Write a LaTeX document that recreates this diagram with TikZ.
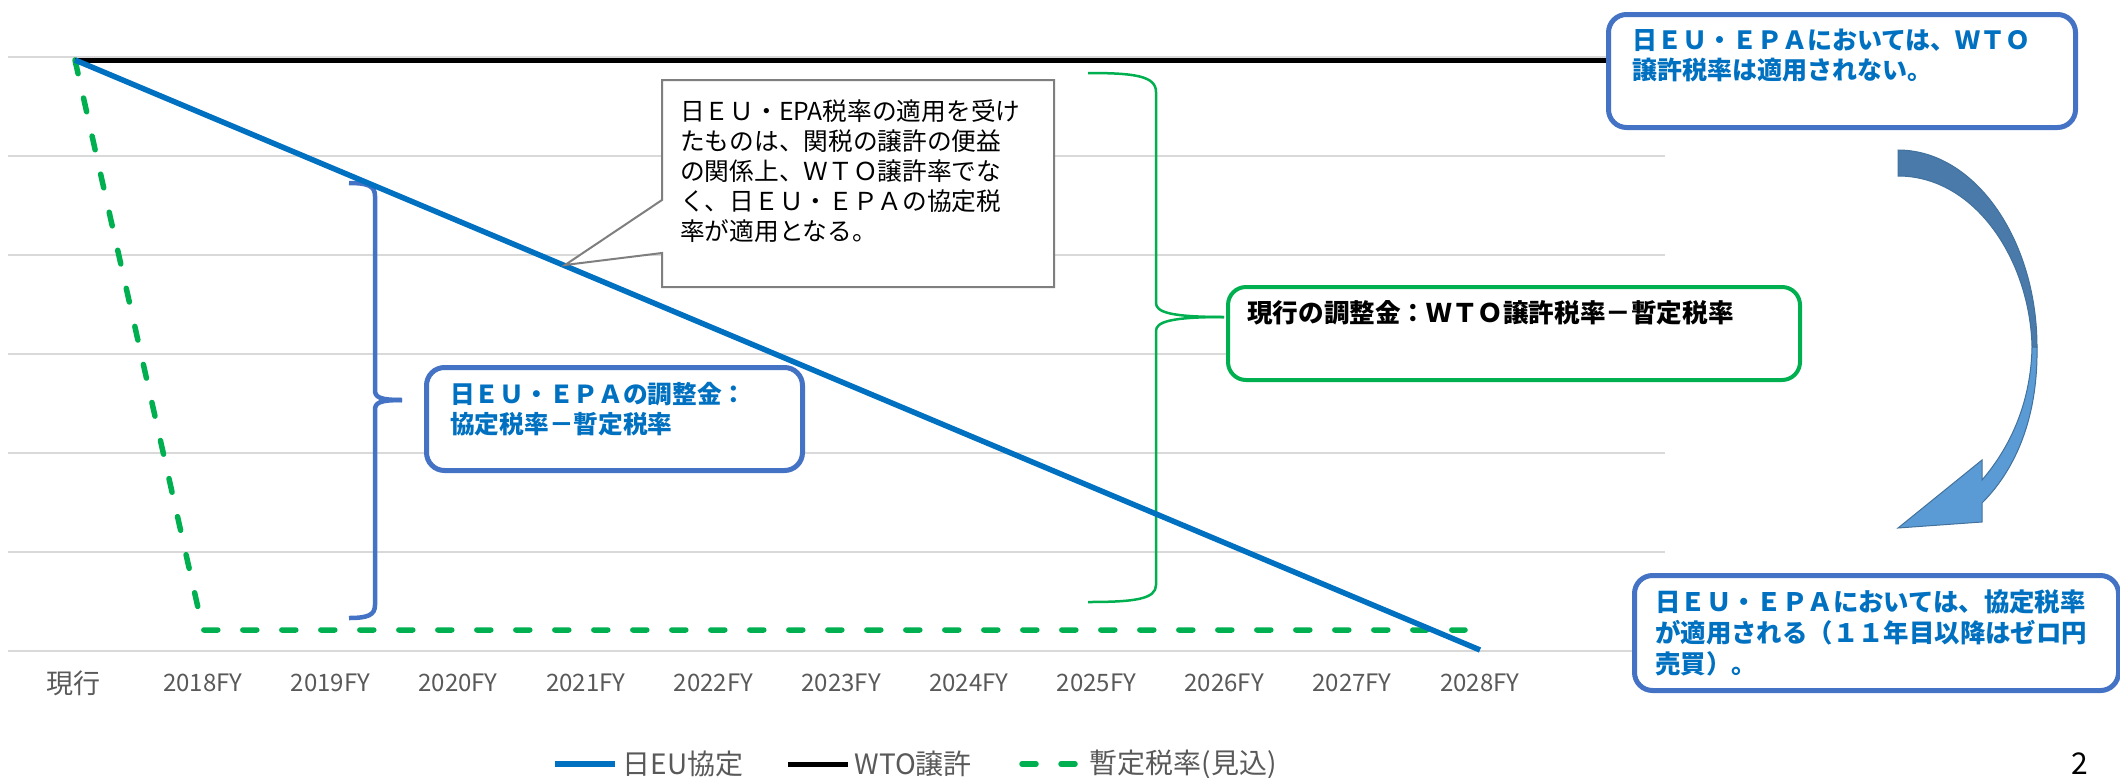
\documentclass[tikz,border=0pt]{standalone}
\usepackage{fontspec}
\setmainfont{Noto Sans CJK JP}
\definecolor{databl}{RGB}{0, 112, 192}
\definecolor{boxbl}{RGB}{68, 114, 196}
\definecolor{grn1}{RGB}{0, 176, 80}
\definecolor{grid1}{RGB}{217, 217, 217}
\definecolor{axisgray}{RGB}{89, 89, 89}
\definecolor{notegray}{RGB}{127, 127, 127}
\definecolor{arrowdark}{RGB}{74, 122, 170}
\definecolor{arrowlight}{RGB}{91, 155, 213}
\definecolor{arrowline}{RGB}{65, 113, 156}
\usetikzlibrary{positioning}

\begin{document}
\begin{tikzpicture}[x=1pt, y=-1pt,
  gridline/.style={grid1, line width=2pt},
  epaline/.style={databl, line width=5.5pt},
  wtoline/.style={black, line width=5pt},
  provline/.style={grn1, line width=5.5pt, dash pattern=on 14pt off 25pt, line cap=round},
  axislabel/.style={text=axisgray, font=\fontsize{24}{28}\selectfont},
  legtext/.style={text=axisgray, font=\fontsize{28}{32}\selectfont, inner sep=0pt},
  bracebl/.style={boxbl, line width=4.5pt},
  bracegr/.style={grn1, line width=2.5pt},
  bluebox/.style={draw=boxbl, line width=5pt, rounded corners=18pt, fill=white, inner sep=0pt, anchor=north west},
  greenbox/.style={draw=grn1, line width=4pt, rounded corners=18pt, fill=white, inner sep=0pt, anchor=north west},
  boxtext/.style={anchor=north west, inner sep=0pt, align=left, text=databl, font=\bfseries\fontsize{25}{30}\selectfont}]
  \useasboundingbox (0,0) rectangle (2120,777);

  % grid
  \foreach \k in {0,...,6}
    \draw[gridline] (8,{56.5+99*\k}) -- (1665,{56.5+99*\k});

  % braces
  \draw[bracebl] (349,183) .. controls (368,183) and (375,186) .. (375,196) -- (375,390) .. controls (375,397) and (379,400) .. (402,400);
  \draw[bracebl] (349,618) .. controls (368,618) and (375,615) .. (375,605) -- (375,410) .. controls (375,403) and (379,400) .. (402,400);
  \draw[bracegr] (1088,73) .. controls (1135,73) and (1156,76) .. (1156,92) -- (1156,303) .. controls (1156,312) and (1170,317) .. (1224,317);
  \draw[bracegr] (1088,602) .. controls (1135,602) and (1156,599) .. (1156,585) -- (1156,331) .. controls (1156,322) and (1170,317) .. (1224,317);

  % series
  \draw[provline] (75,60) -- (203,630) -- (1465,630);
  \draw[wtoline] (75,60) -- (1620,60);
  \draw[epaline] (75,60) -- (1480,650);

  % axis labels
  \node[axislabel, font=\fontsize{27}{30}\selectfont] (yr0) at (73,683) {現行};
  \foreach \lbl [count=\i] in {2018FY,2019FY,2020FY,2021FY,2022FY,2023FY,2024FY,2025FY,2026FY,2027FY,2028FY}
    \node[axislabel] (yr\i) at ({75+127.7*\i},683) {\lbl};

  % callout
  \draw[notegray, line width=2pt, fill=white] (662,80) -- (1054,80) -- (1054,287) -- (662,287) -- (662,253) -- (565,265) -- (662,200) -- cycle;
  \node[anchor=north west, inner sep=0pt, align=left, font=\fontsize{24.7}{30}\selectfont] (note) at (680,99) {日ＥＵ・EPA税率の適用を受け\\たものは、関税の譲許の便益\\の関係上、ＷＴＯ譲許率でな\\く、日ＥＵ・ＥＰＡの協定税\\率が適用となる。};

  % boxes
  \node[bluebox, minimum width=467pt, minimum height=113pt] (wtobox) at (1606,12) {};
  \node[boxtext] (wtotxt) at (1632,29) {日ＥＵ・ＥＰＡにおいては、ＷＴＯ\\譲許税率は適用されない。};

  \node[bluebox, minimum width=484pt, minimum height=115pt] (epabox) at (1632,573) {};
  \node[boxtext, font=\bfseries\fontsize{25.4}{31}\selectfont] (epatxt) at (1655,590) {日ＥＵ・ＥＰＡにおいては、協定税率\\が適用される（１１年目以降はゼロ円\\売買）。};

  \node[bluebox, minimum width=376pt, minimum height=103pt] (adjbox) at (424,365) {};
  \node[boxtext, font=\bfseries\fontsize{24.7}{30}\selectfont] (adjtxt) at (450,382) {日ＥＵ・ＥＰＡの調整金：\\協定税率－暫定税率};

  \node[greenbox, minimum width=572pt, minimum height=93pt] (curbox) at (1226,285) {};
  \node[boxtext, text=black, font=\bfseries\fontsize{25.6}{30}\selectfont] (curtxt) at (1247,300) {現行の調整金：ＷＴＯ譲許税率－暫定税率};

  % curved arrow
  \draw[arrowline, fill=arrowdark, line width=1pt] (1898,150) .. controls (1975,150) and (2037,240) .. (2037,347) -- (2032,347) .. controls (2030,260) and (1975,176) .. (1898,176) -- cycle;
  \draw[arrowline, fill=arrowlight, line width=1pt] (2032,347) .. controls (2031,400) and (2012,445) .. (1982,480) -- (1982,460) -- (1898,528) -- (1982,522) -- (1982,503) .. controls (2020,465) and (2038,410) .. (2037,347) -- cycle;

  % legend
  \draw[epaline] (555,764) -- (615,764) node[legtext, right=5pt] (legepa) {日EU協定};
  \draw[wtoline] (788,764) -- (848,764) node[legtext, right=4pt] (legwto) {WTO譲許};
  \draw[provline] (1022,764) -- (1078,764) node[legtext, right=9pt] (legprov) {暫定税率(見込)};

  \node[font=\fontsize{30}{36}\selectfont] (pagenum) at (2080,764) {2};
\end{tikzpicture}
\end{document}
